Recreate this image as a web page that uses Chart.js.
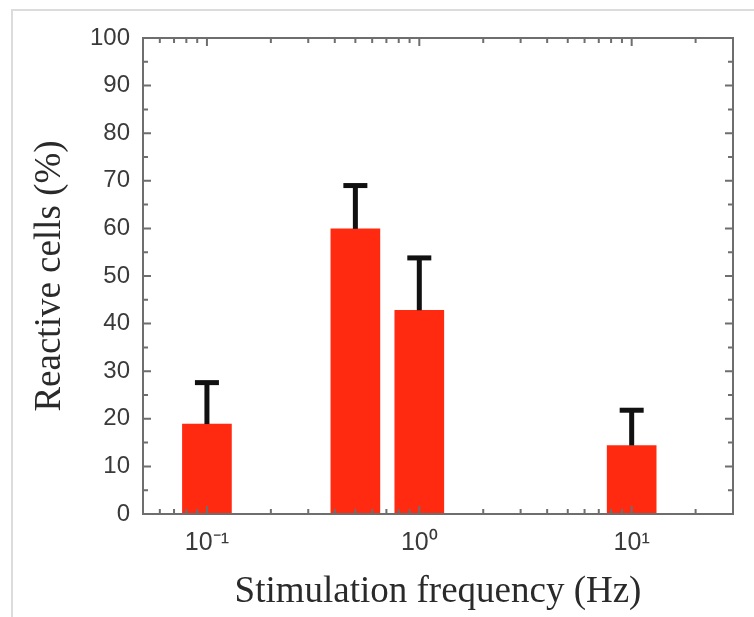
<!DOCTYPE html>
<html>
<head>
<meta charset="utf-8">
<script src="https://cdn.jsdelivr.net/npm/chart.js@4/dist/chart.umd.min.js"></script>
<style>
  html, body { margin: 0; padding: 0; background: #fff; }
  #wrap { width: 754px; height: 617px; position: relative; }
</style>
</head>
<body>
<div id="wrap"><canvas id="freqChart"></canvas></div>
<script>
// data
const frequencies = [0.1, 0.5, 1, 10];          // Hz
const reactiveCells = [18.9, 59.9, 42.8, 14.4];  // %
const errorUp = [8.7, 9.1, 11.0, 7.4];           // upper error, %

const xTickValues = [0.1, 1, 10];
const xTickLabels = ['10\u207B\u00B9', '10\u2070', '10\u00B9'];
const xMinorTicks = [0.06, 0.07, 0.08, 0.09, 0.2, 0.3, 0.4, 0.5, 0.6, 0.7, 0.8, 0.9,
                     2, 3, 4, 5, 6, 7, 8, 9, 20];
const yMinorTicks = [5, 15, 25, 35, 45, 55, 65, 75, 85, 95];

const axisColor = '#6e6e6e';

// frame, inward ticks and error bars
const framePlugin = {
    id: 'frameTicks',
    beforeDraw(chart) {
        const ctx = chart.ctx;
        ctx.save();
        ctx.strokeStyle = '#dcdcdc';
        ctx.lineWidth = 2;
        ctx.strokeRect(12, 10, 800, 700);
        ctx.restore();
    },
    afterDatasetsDraw(chart) {
        const ctx = chart.ctx;
        const xs = chart.scales.x;
        const ys = chart.scales.y;
        const area = chart.chartArea;

        // error bars (upper only)
        ctx.save();
        ctx.fillStyle = '#111';
        frequencies.forEach((f, i) => {
            const px = xs.getPixelForValue(f);
            const yTop = ys.getPixelForValue(reactiveCells[i] + errorUp[i]);
            const yBar = ys.getPixelForValue(reactiveCells[i]);
            ctx.fillRect(px - 2.5, yTop, 5, yBar - yTop);
            ctx.fillRect(px - 12, yTop - 2.5, 24, 5);
        });
        ctx.restore();

        ctx.save();
        ctx.strokeStyle = axisColor;
        ctx.lineWidth = 2;
        ctx.beginPath();
        const tick = (x1, y1, x2, y2) => { ctx.moveTo(x1, y1); ctx.lineTo(x2, y2); };
        xTickValues.forEach(v => {
            const px = xs.getPixelForValue(v);
            tick(px, area.bottom, px, area.bottom - 8);
            tick(px, area.top, px, area.top + 8);
        });
        xMinorTicks.forEach(v => {
            const px = xs.getPixelForValue(v);
            tick(px, area.bottom, px, area.bottom - 5);
            tick(px, area.top, px, area.top + 5);
        });
        ys.ticks.forEach(t => {
            const py = ys.getPixelForValue(t.value);
            tick(area.left, py, area.left + 8, py);
            tick(area.right, py, area.right - 8, py);
        });
        yMinorTicks.forEach(v => {
            const py = ys.getPixelForValue(v);
            tick(area.left, py, area.left + 5, py);
            tick(area.right, py, area.right - 5, py);
        });
        ctx.stroke();
        ctx.strokeRect(area.left, area.top, area.right - area.left, area.bottom - area.top);
        ctx.restore();
    }
};

new Chart(document.getElementById('freqChart'), {
    type: 'bar',
    data: {
        datasets: [{
            label: 'Reactive cells',
            data: frequencies.map((f, i) => ({ x: f, y: reactiveCells[i] })),
            backgroundColor: '#ff2a10',
            borderWidth: 0,
            barThickness: 49
        }]
    },
    options: {
        responsive: true,
        maintainAspectRatio: false,
        animation: false,
        layout: { padding: { top: 38, right: 21, left: 0, bottom: 0 } },
        plugins: {
            legend: { display: false },
            tooltip: { enabled: false }
        },
        scales: {
            x: {
                type: 'logarithmic',
                offset: false,
                min: 0.05,
                max: 30,
                afterBuildTicks: function (scale) {
                    scale.ticks = xTickValues.map(v => ({ value: v, major: true }));
                },
                afterFit: function (scale) { scale.height = 103; },
                grid: { display: false, drawTicks: false },
                border: { display: false },
                ticks: {
                    autoSkip: false,
                    maxRotation: 0,
                    padding: 14,
                    color: '#3a3a3a',
                    font: { family: 'Liberation Sans', size: 25 },
                    callback: function (value) {
                        const idx = xTickValues.indexOf(value);
                        return idx >= 0 ? xTickLabels[idx] : '';
                    }
                },
                title: {
                    display: true,
                    text: 'Stimulation frequency (Hz)',
                    color: '#2a2a2a',
                    font: { family: 'Liberation Serif', size: 37 },
                    padding: { top: 0, bottom: 3 }
                }
            },
            y: {
                min: 0,
                max: 100,
                afterFit: function (scale) { scale.width = 143; },
                grid: { display: false, drawTicks: false },
                border: { display: false },
                ticks: {
                    stepSize: 10,
                    padding: 13,
                    color: '#3a3a3a',
                    font: { family: 'Liberation Sans', size: 24 }
                },
                title: {
                    display: true,
                    text: 'Reactive cells (%)',
                    color: '#2a2a2a',
                    font: { family: 'Liberation Serif', size: 37 },
                    padding: { top: 28, bottom: 0 }
                }
            }
        }
    },
    plugins: [framePlugin]
});
</script>
</body>
</html>
